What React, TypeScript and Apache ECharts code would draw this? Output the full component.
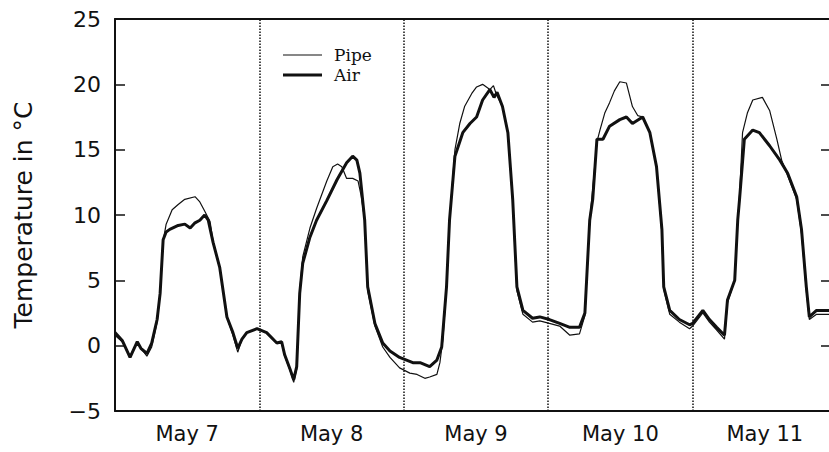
import React, { useEffect, useRef } from "react";
import * as echarts from "echarts";

// hours since May 7, 00:00
const airHours = [0, 1.2, 2.5, 3.7, 4.3, 5.3, 6.1, 7.0, 7.5, 8.0, 8.5, 9.1, 10.5, 11.6, 12.5, 13.3, 14.1, 14.9, 15.5, 16.3, 17.4, 18.6, 19.6, 20.4, 21.1, 21.9, 23.6, 25.2, 26.9, 27.7, 28.2, 29.1, 29.7, 30.2, 30.7, 31.2, 32.4, 33.5, 35.2, 36.9, 38.5, 39.5, 40.2, 40.7, 41.5, 42.0, 43.2, 44.5, 45.7, 47.3, 49.5, 50.7, 52.3, 53.5, 54.3, 55.1, 55.6, 56.5, 57.8, 59.0, 60.1, 61.1, 62.3, 63.0, 63.5, 64.4, 65.3, 66.1, 66.8, 67.8, 69.4, 70.6, 72.2, 73.9, 75.6, 77.2, 78.1, 78.9, 79.4, 80.1, 81.1, 82.2, 83.9, 85.0, 86.0, 87.7, 88.9, 90.0, 90.9, 91.2, 92.2, 93.8, 95.5, 96.0, 97.7, 98.8, 100.0, 101.3, 101.8, 103.0, 103.5, 103.8, 104.6, 106.0, 107.1, 108.8, 110.5, 111.8, 113.3, 114.1, 114.9, 115.4, 116.6, 118.6, 120];
const airTemp = [1.0, 0.4, -0.9, 0.3, -0.2, -0.6, 0.2, 2.0, 4.0, 8.1, 8.7, 8.9, 9.2, 9.3, 9.0, 9.4, 9.6, 10.0, 9.6, 7.9, 6.0, 2.2, 1.0, -0.2, 0.5, 1.0, 1.3, 1.0, 0.2, 0.3, -0.7, -1.8, -2.6, -1.6, 4.0, 6.3, 8.3, 9.6, 11.1, 12.7, 14.0, 14.5, 14.2, 13.2, 9.6, 4.5, 1.7, 0.2, -0.4, -0.9, -1.3, -1.3, -1.6, -1.1, -0.1, 4.5, 9.6, 14.5, 16.3, 17.0, 17.5, 18.8, 19.6, 19.0, 19.4, 18.3, 16.3, 11.2, 4.5, 2.7, 2.1, 2.2, 2.0, 1.7, 1.4, 1.4, 2.5, 9.6, 11.2, 15.8, 15.8, 16.8, 17.3, 17.5, 17.0, 17.5, 16.3, 13.7, 8.9, 4.5, 2.7, 2.0, 1.6, 1.7, 2.7, 2.0, 1.4, 0.8, 3.5, 5.0, 9.6, 11.2, 15.8, 16.5, 16.3, 15.3, 14.2, 13.2, 11.4, 8.9, 4.5, 2.2, 2.7, 2.7, 2.7];

const pipeHours = [0, 1.2, 2.5, 3.7, 5.3, 6.1, 7.0, 7.5, 8.0, 8.5, 9.5, 10.5, 11.6, 13.3, 14.1, 14.9, 15.8, 16.3, 17.4, 18.6, 19.6, 20.4, 21.1, 21.9, 23.6, 25.2, 26.9, 27.7, 28.2, 29.1, 29.7, 30.2, 30.7, 31.2, 32.4, 33.5, 35.2, 36.2, 37.0, 37.7, 38.5, 39.5, 40.4, 40.9, 41.5, 42.0, 43.2, 44.5, 45.7, 47.3, 49.0, 50.2, 51.5, 52.3, 53.5, 54.0, 54.5, 55.1, 55.6, 56.5, 57.3, 58.1, 59.3, 60.1, 61.1, 62.3, 62.9, 63.4, 64.4, 65.3, 66.1, 66.8, 67.8, 69.4, 70.6, 72.2, 73.9, 75.6, 77.2, 78.1, 78.9, 79.4, 80.1, 80.6, 81.4, 82.2, 83.0, 83.9, 85.0, 86.0, 86.9, 87.7, 88.9, 90.0, 90.9, 91.2, 92.2, 93.8, 95.5, 96.0, 97.7, 98.8, 100.0, 101.3, 101.8, 103.0, 103.5, 103.8, 104.3, 105.1, 106.0, 107.6, 108.8, 110.0, 110.8, 111.8, 113.3, 114.1, 114.9, 115.4, 116.6, 118.6, 120];
const pipeTemp = [0.8, 0.3, -0.8, 0.2, -0.8, -0.1, 1.8, 4.0, 8.0, 9.3, 10.4, 10.8, 11.2, 11.4, 11.0, 10.3, 9.5, 8.0, 6.0, 2.2, 0.8, -0.5, 0.5, 1.0, 1.3, 1.0, 0.2, 0.2, -0.8, -1.9, -2.8, -1.8, 4.2, 6.8, 9.0, 10.5, 12.6, 13.7, 13.9, 13.7, 12.8, 12.8, 12.6, 11.5, 9.6, 4.2, 1.5, -0.1, -0.9, -1.7, -2.1, -2.2, -2.5, -2.4, -2.2, -1.3, 0.5, 4.5, 9.6, 15.0, 17.0, 18.3, 19.3, 19.8, 20.0, 19.6, 19.9, 19.2, 18.3, 16.3, 11.0, 4.2, 2.4, 1.8, 1.9, 1.7, 1.5, 0.8, 0.9, 2.3, 9.6, 12.0, 15.6, 16.5, 17.8, 18.6, 19.5, 20.2, 20.1, 18.3, 17.6, 17.5, 16.3, 13.7, 8.6, 4.3, 2.4, 1.8, 1.3, 1.5, 2.5, 1.8, 1.2, 0.5, 3.3, 5.0, 9.6, 11.5, 16.3, 17.8, 18.8, 19.0, 18.0, 15.8, 14.2, 13.0, 11.2, 8.6, 4.2, 2.0, 2.4, 2.4, 2.4];

const dayLabels = ["May 7", "May 8", "May 9", "May 10", "May 11"];
const dayBoundaries = [24, 48, 72, 96];
const yTicks = { min: -5, max: 25, step: 5 };
const seriesNames = ["Pipe", "Air"];
const seriesWidths = [1.2, 3];

const INK = "#111";

export default function App() {
  const ref = useRef<HTMLDivElement>(null);
  useEffect(() => {
    if (!ref.current) return;
    const chart = echarts.init(ref.current, null, { renderer: "svg" });
    const pipe = pipeHours.map((h, i) => [h, pipeTemp[i]]);
    const air = airHours.map((h, i) => [h, airTemp[i]]);

    const legendItems: any[] = [];
    seriesNames.forEach((name, i) => {
      const y = 55 + i * 20;
      legendItems.push({
        type: "line",
        shape: { x1: 283, y1: y, x2: 322, y2: y },
        style: { stroke: INK, lineWidth: seriesWidths[i] },
      });
      legendItems.push({
        type: "text",
        x: 334,
        y,
        style: {
          text: name,
          fill: INK,
          font: "17px 'DejaVu Serif'",
          textVerticalAlign: "middle",
          verticalAlign: "middle",
        },
      });
    });

    chart.setOption({
      animation: false,
      backgroundColor: "#fff",
      grid: { left: 115, right: 2, top: 19, bottom: 41 },
      graphic: legendItems,
      xAxis: [
        {
          type: "value",
          min: 0,
          max: 120,
          interval: 12,
          axisLine: { show: true, onZero: false, lineStyle: { color: INK, width: 2 } },
          axisTick: { show: false },
          splitLine: { show: false },
          axisLabel: {
            margin: 12,
            fontFamily: "DejaVu Sans",
            fontSize: 21,
            color: INK,
            formatter: (v: number) => {
              const k = Math.round(v / 12);
              return k % 2 === 1 ? dayLabels[(k - 1) / 2] : "";
            },
          },
        },
        {
          type: "value",
          position: "top",
          min: 0,
          max: 120,
          interval: 12,
          axisLine: { show: true, onZero: false, lineStyle: { color: INK, width: 2 } },
          axisTick: { show: false },
          axisLabel: { show: false },
          splitLine: { show: false },
        },
      ],
      yAxis: [
        {
          type: "value",
          min: yTicks.min,
          max: yTicks.max,
          interval: yTicks.step,
          name: "Temperature in °C",
          nameLocation: "middle",
          nameGap: 79,
          nameRotate: 90,
          nameTextStyle: { fontFamily: "DejaVu Sans", fontSize: 25, color: INK },
          axisLine: { show: true, onZero: false, lineStyle: { color: INK, width: 2 } },
          axisTick: { show: true, inside: true, length: 10, lineStyle: { color: INK, width: 1.5 } },
          splitLine: { show: false },
          axisLabel: {
            margin: 14,
            fontFamily: "DejaVu Sans",
            fontSize: 22,
            color: INK,
            formatter: (v: number) => (v < 0 ? "\u2212" + Math.abs(v) : String(v)),
          },
        },
        {
          type: "value",
          position: "right",
          min: yTicks.min,
          max: yTicks.max,
          interval: yTicks.step,
          axisLine: { show: true, onZero: false, lineStyle: { color: INK, width: 2 } },
          axisTick: { show: true, inside: true, length: 16, lineStyle: { color: INK, width: 1.5 } },
          axisLabel: { show: false },
          splitLine: { show: false },
        },
      ],
      series: [
        {
          name: "Pipe",
          type: "line",
          data: pipe,
          showSymbol: false,
          symbol: "none",
          lineStyle: { color: INK, width: seriesWidths[0] },
          itemStyle: { color: INK },
          z: 3,
        },
        {
          name: "Air",
          type: "line",
          data: air,
          showSymbol: false,
          symbol: "none",
          lineStyle: { color: INK, width: seriesWidths[1] },
          itemStyle: { color: INK },
          z: 2,
          markLine: {
            silent: true,
            symbol: "none",
            label: { show: false },
            lineStyle: { color: INK, type: "dotted", width: 1.5 },
            data: dayBoundaries.map((d) => ({ xAxis: d })),
          },
        },
      ],
    });
    return () => chart.dispose();
  }, []);
  return (
    <div
      style={{
        position: "absolute",
        left: 0,
        top: 0,
        width: 829,
        height: 452,
        overflow: "hidden",
        background: "#fff",
      }}
    >
      <div ref={ref} style={{ width: 840, height: 452 }} />
    </div>
  );
}
